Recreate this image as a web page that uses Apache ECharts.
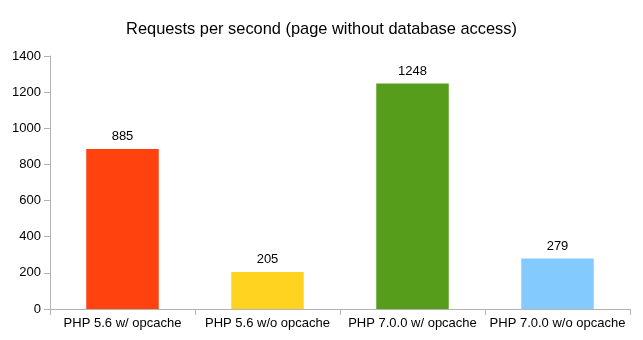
<!DOCTYPE html>
<html><head><meta charset="utf-8">
<script src="https://cdn.jsdelivr.net/npm/echarts@6/dist/echarts.min.js"></script>
<style>html,body{margin:0;padding:0;background:#fff}#c{width:643px;height:340px}</style>
</head><body><div id="c"></div>
<script>
const categories = ['PHP 5.6 w/ opcache', 'PHP 5.6 w/o opcache', 'PHP 7.0.0 w/ opcache', 'PHP 7.0.0 w/o opcache'];
const values = [885, 205, 1248, 279];
const colors = ['#ff420e', '#ffd320', '#579d1c', '#83caff'];
const chart = echarts.init(document.getElementById('c'));
chart.setOption({
  animation: false,
  textStyle: {fontFamily: 'Liberation Sans'},
  title: {text: 'Requests per second (page without database access)', left: 'center', top: 16,
    textStyle: {fontFamily: 'Liberation Sans', fontSize: 16.4, fontWeight: 'normal', color: '#000'}},
  grid: {left: 50, right: 13, top: 56, bottom: 31},
  xAxis: {type: 'category', data: categories,
    axisLine: {lineStyle: {color: '#b3b3b3'}},
    axisTick: {show: true, length: 6, lineStyle: {color: '#b3b3b3'}},
    axisLabel: {color: '#000', fontSize: 13, margin: 8, interval: 0}},
  yAxis: {type: 'value', min: 0, max: 1400, interval: 200,
    axisLine: {show: true, lineStyle: {color: '#b3b3b3'}},
    axisTick: {show: true, length: 6, lineStyle: {color: '#b3b3b3'}},
    splitLine: {show: false},
    axisLabel: {color: '#000', fontSize: 13, margin: 9, formatter: v => String(v)}},
  series: [{type: 'bar', barWidth: '50%',
    data: values.map((v, i) => ({value: v, itemStyle: {color: colors[i]}})),
    label: {show: true, position: 'top', color: '#000', fontSize: 13, distance: 6}}]
});
</script></body></html>
